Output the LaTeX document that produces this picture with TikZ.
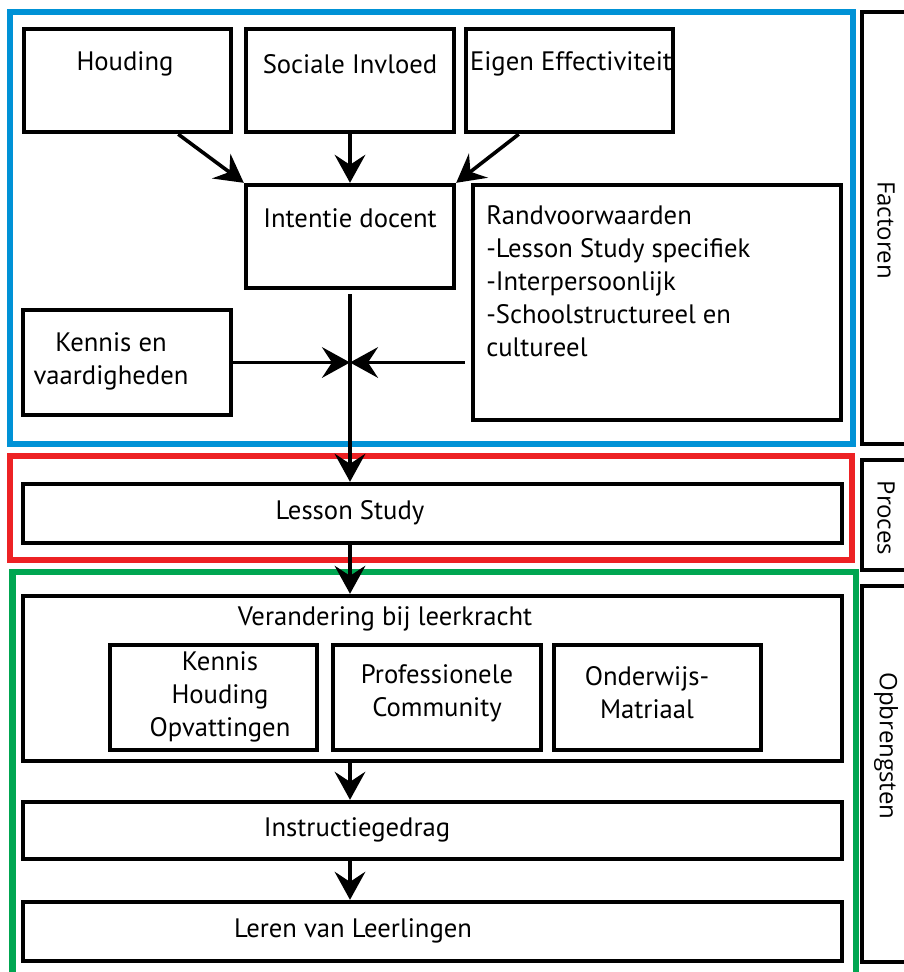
\documentclass[tikz,border=0pt]{standalone}
\usepackage{fontspec}
\setmainfont{PT Sans}
\newfontfamily\sidefont{Open Sans}
\usetikzlibrary{arrows.meta,fit,calc}
\definecolor{fblue}{RGB}{0,146,214}
\definecolor{fred}{RGB}{237,34,36}
\definecolor{fgreen}{RGB}{0,166,81}
\begin{document}
\begin{tikzpicture}[x=0.75pt,y=-0.75pt,
  bx/.style={draw=black, line width=3.3pt, inner sep=0pt},
  sidebox/.style={draw=black, line width=2.3pt, inner sep=0pt},
  frame/.style={line width=4.6pt},
  lbl/.style={font=\fontsize{20}{24.75}\selectfont, inner sep=0pt, align=center},
  sidelbl/.style={font=\sidefont\fontsize{18}{20}\selectfont, inner sep=0pt, rotate=-90},
  arr/.style={line width=2.7pt, -{Stealth[length=21pt,width=23pt,inset=7.5pt]}}]
\useasboundingbox (0,0) rectangle (904,972);
\clip (0,0) rectangle (904,972);
\fill[white] (0,0) rectangle (904,972);
% coloured frames
\draw[frame, fblue] (10,12) rectangle (853,444);
\draw[frame, fred] (10,456) rectangle (852,560);
\draw[frame, fgreen] (12.5,572) rectangle (856,1000);
% side boxes
\node[sidebox, fit={(862,12) (950,444)}] (fac) {};
\node[sidebox, fit={(862,460) (950,570)}] (pro) {};
\node[sidebox, fit={(862,586) (950,962)}] (opb) {};
\node[sidelbl] (tfac) at (886,230) {Factoren};
\node[sidelbl] (tpro) at (886,518) {Proces};
\node[sidelbl] (topb) at (886,746) {Opbrengsten};
% boxes
\node[bx, fit={(24,29) (231,132)}] (hou) {};
\node[bx, fit={(246,29) (454,132)}] (soc) {};
\node[bx, fit={(466,29) (673,132)}] (eig) {};
\node[bx, fit={(246,185) (454,288)}] (int) {};
\node[bx, fit={(473,185) (841,420)}] (ran) {};
\node[bx, fit={(23,310) (231,415)}] (ken) {};
\node[bx, fit={(23,484) (842,543)}] (les) {};
\node[bx, fit={(23,596) (842,761)}] (ver) {};
\node[bx, fit={(110,645) (317,750)}] (kho) {};
\node[bx, fit={(333,645) (541,750)}] (pco) {};
\node[bx, fit={(554,645) (761,750)}] (omt) {};
\node[bx, fit={(23,802) (842,859)}] (ins) {};
\node[bx, fit={(23,902) (842,961)}] (ler) {};
% texts
\node[lbl] (thou) at (125,64) {Houding};
\node[lbl] (tsoc) at (350,64) {Sociale Invloed};
\node[lbl] (teig) at (571,64) {Eigen Effectiviteit};
\node[lbl] (tint) at (350,218) {Intentie docent};
\node[lbl, align=left, anchor=west] (tran) at (486,281) {Randvoorwaarden\\-Lesson Study specifiek\\-Interpersoonlijk\\-Schoolstructureel en\\cultureel};
\node[lbl] (tken) at (111,361) {Kennis en\\vaardigheden};
\node[lbl] (tles) at (350,513) {Lesson Study};
\node[lbl] (tver) at (385,619) {Verandering bij leerkracht};
\node[lbl] (tkho) at (220,697) {Kennis\\Houding\\Opvattingen};
\node[lbl] (tpco) at (437,693) {Professionele\\Community};
\node[lbl] (tomt) at (647,693) {Onderwijs-\\Matriaal};
\node[lbl] (tins) at (357,830) {Instructiegedrag};
\node[lbl] (tler) at (353,931) {Leren van Leerlingen};
% connectors
\coordinate (mid) at (int.south |- ken.east);
\draw[arr] ($(hou.south west)!0.74!(hou.south east)$) -- (int.north west);
\draw[arr] (soc.south) -- (int.north);
\draw[arr] ($(eig.south west)!0.26!(eig.south east)$) -- (int.north east);
\draw[arr, shorten <=3pt] (int.south) -- (les.north -| int.south);
\draw[arr] (ken.east) -- (mid);
\draw[arr, shorten <=4.5pt] (ran.west |- mid) -- (mid);
\draw[arr] (les.south -| int.south) -- (ver.north -| int.south);
\draw[arr] (ver.south -| int.south) -- (ins.north -| int.south);
\draw[arr] (ins.south -| int.south) -- (ler.north -| int.south);
\end{tikzpicture}
\end{document}
